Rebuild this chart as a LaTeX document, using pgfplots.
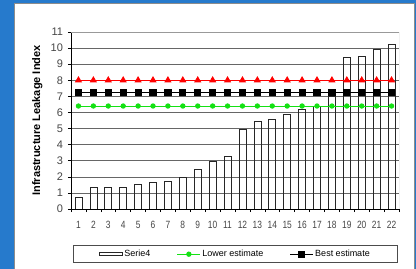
\documentclass[border=0pt]{standalone}
\usepackage{fontspec}
\setmainfont{Liberation Sans}
\newfontfamily\narrowsans[FakeStretch=0.8]{Liberation Sans}
\usepackage{pgfplots}
\pgfplotsset{compat=1.18}
\definecolor{bgblue}{RGB}{38,122,204}
\definecolor{lgreen}{RGB}{20,225,20}
\definecolor{tickgray}{RGB}{70,70,70}
\pgfplotsset{
  lineleg/.style={legend image code/.code={\draw[mark repeat=2, mark phase=2, ##1] plot coordinates {(0bp,0bp) (11.5bp,0bp) (23bp,0bp)};}},
  barleg/.style={legend image code/.code={\draw[black!85, line width=0.6bp, fill=white] (0bp,-1.4bp) rectangle (23bp,1.4bp);}},
}
\begin{document}
\begin{tikzpicture}
\useasboundingbox (0bp,0bp) rectangle (416bp,269bp);
\fill[bgblue] (0bp,0bp) rectangle (416bp,269bp);
\fill[white] (14bp,0bp) rectangle (414bp,266bp);
\draw[black!45, line width=0.8bp] (14bp,0bp) -- (14bp,266bp) -- (414bp,266bp) -- (414bp,0bp);
\begin{axis}[
  at={(71bp,60bp)}, anchor=south west,
  scale only axis, width=328bp, height=177bp,
  xmin=0.5, xmax=22.5, ymin=0, ymax=11,
  axis lines*=left,
  axis line style={black, line width=0.7bp},
  xtick={1,...,22},
  minor xtick={0.5,1.5,...,22.5},
  major x tick style={draw=none},
  minor tick length=3bp,
  ytick={0,...,11},
  major tick length=3bp,
  tick align=outside,
  tick style={black, line width=0.6bp},
  ymajorgrids,
  major grid style={black!60, line width=0.6bp},
  /pgf/number format/assume math mode=true,
  yticklabel style={font=\fontsize{11bp}{13bp}\selectfont, text=tickgray, xshift=-1.5bp},
  xticklabel style={font=\narrowsans\fontsize{10.5bp}{12bp}\selectfont, text=tickgray, yshift=-5.5bp},
  ylabel={Infrastructure Leakage Index},
  ylabel style={font=\bfseries\fontsize{11bp}{13bp}\selectfont, at={(axis description cs:-0.103,0.5)}, anchor=center},
  legend columns=3,
  legend style={at={(axis description cs:0.0061,-0.305)}, anchor=south west,
    draw=black!70, line width=0.6bp,
    font=\fontsize{9bp}{10bp}\selectfont,
    inner xsep=26bp, inner ysep=3bp,
    /tikz/every even column/.append style={column sep=25bp},
    nodes={inner sep=1.5bp}},
]
\addplot[ybar, bar width=7bp, draw=black!85, fill=none, line width=0.7bp, barleg]
  coordinates {(1,0.70) (2,1.32) (3,1.37) (4,1.37) (5,1.51) (6,1.68) (7,1.74) (8,1.99) (9,2.47) (10,2.98) (11,3.25)
  (12,4.97) (13,5.43) (14,5.60) (15,5.90) (16,6.20) (17,6.40) (18,6.98) (19,9.40) (20,9.47) (21,9.92) (22,10.25)};
\addlegendentry{Serie4}
\addplot[lgreen, line width=0.9bp, mark=*, mark size=2.2bp, mark options={fill=lgreen, draw=lgreen}, lineleg]
  coordinates {(1,6.4) (2,6.4) (3,6.4) (4,6.4) (5,6.4) (6,6.4) (7,6.4) (8,6.4) (9,6.4) (10,6.4) (11,6.4)
  (12,6.4) (13,6.4) (14,6.4) (15,6.4) (16,6.4) (17,6.4) (18,6.4) (19,6.4) (20,6.4) (21,6.4) (22,6.4)};
\addlegendentry{Lower estimate}
\addplot[black, line width=0.9bp, mark=square*, mark size=3.1bp, mark options={fill=black}, lineleg]
  coordinates {(1,7.25) (2,7.25) (3,7.25) (4,7.25) (5,7.25) (6,7.25) (7,7.25) (8,7.25) (9,7.25) (10,7.25) (11,7.25)
  (12,7.25) (13,7.25) (14,7.25) (15,7.25) (16,7.25) (17,7.25) (18,7.25) (19,7.25) (20,7.25) (21,7.25) (22,7.25)};
\addlegendentry{Best estimate}
\addplot[red, line width=0.9bp, mark=triangle*, mark size=3.3bp, mark options={fill=red}, forget plot]
  coordinates {(1,8.0) (2,8.0) (3,8.0) (4,8.0) (5,8.0) (6,8.0) (7,8.0) (8,8.0) (9,8.0) (10,8.0) (11,8.0)
  (12,8.0) (13,8.0) (14,8.0) (15,8.0) (16,8.0) (17,8.0) (18,8.0) (19,8.0) (20,8.0) (21,8.0) (22,8.0)};
\draw[black!40, line width=0.7bp] (rel axis cs:0,1) -- (rel axis cs:1,1) -- (rel axis cs:1,0);
\end{axis}
\end{tikzpicture}
\end{document}
